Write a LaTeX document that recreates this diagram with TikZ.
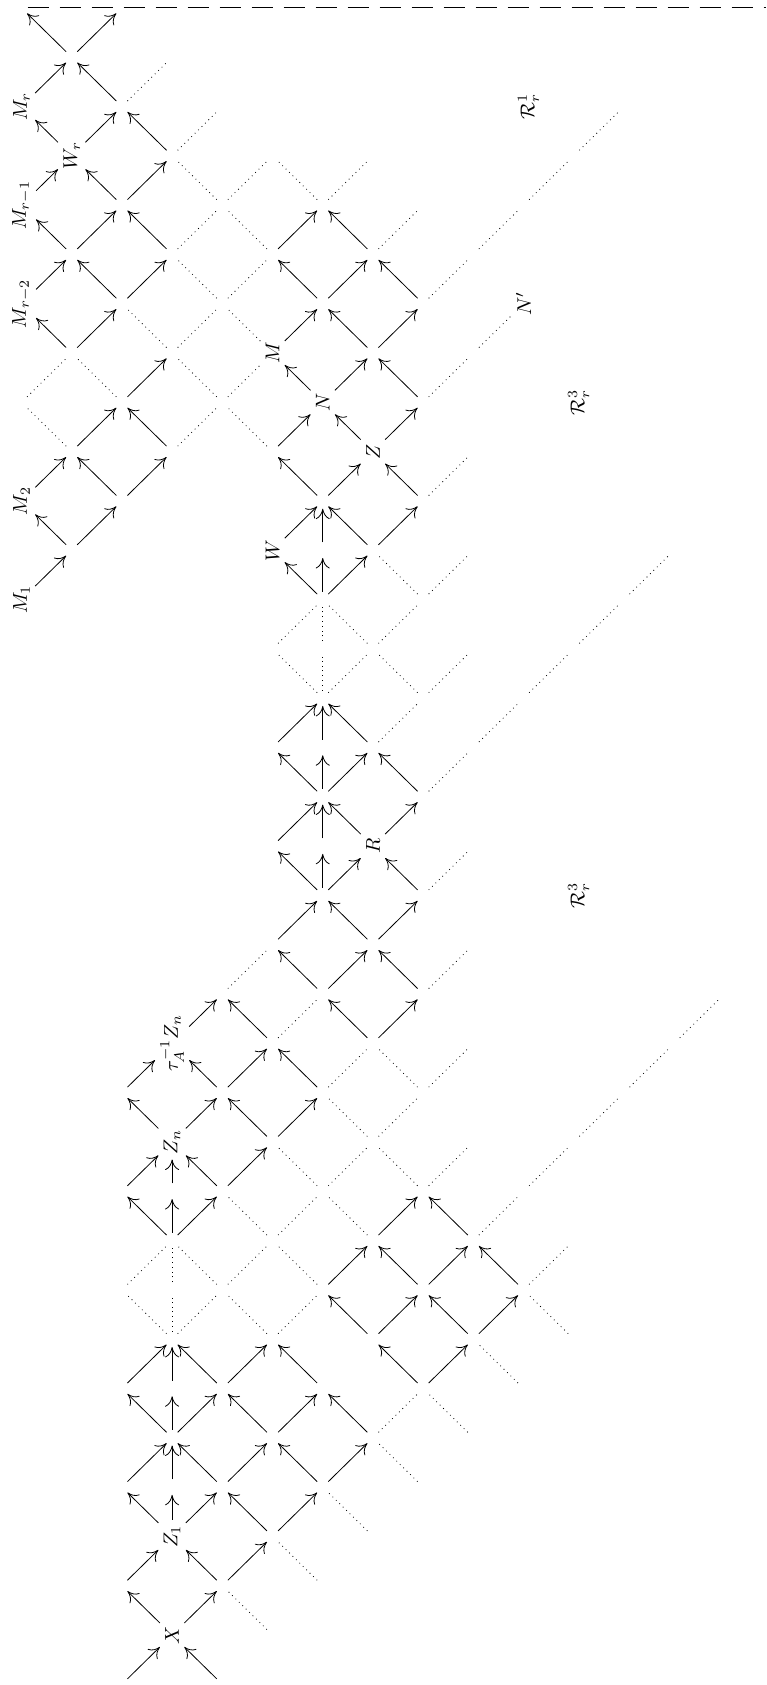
\documentclass[tikz,border=0pt]{standalone}
\usepackage{amsmath}
\usetikzlibrary{arrows.meta}
\begin{document}
\begin{tikzpicture}[
  x=25.1pt, y=24.65pt,
  vtx/.style={circle, inner sep=0pt, minimum size=7.4pt},
  lbl/.style={rotate=90, inner sep=2.5pt},
  arr/.style={-{Computer Modern Rightarrow[length=5.2pt,width=7pt]}},
  dotl/.style={dotted},
  bound/.style={dash pattern=on 10.5pt off 5.5pt, line width=0.6pt}
]
  \useasboundingbox (-0.428,-1.014) rectangle (14.83,33.16);

  % Vertices of the mesh
  \foreach \k in {0,...,33}{
    \pgfmathtruncatemacro\s{mod(\k+1,2)}
    \pgfmathtruncatemacro\t{\s+2}
    \foreach \c in {\s,\t,...,14}
      \node[vtx] (v\c-\k) at (\c,\k) {};
  }
  % middle vertices of the forks
  \foreach \c/\k in {3/3,3/5,3/7,3/9,6/16,6/18,6/20,6/22}
    \node[vtx] (v\c-\k) at (\c,\k) {};
  \node[vtx] (b2) at (2,-1) {};
  \node[vtx] (b4) at (4,-1) {};

  % Labelled modules
  \node[lbl] (v3-0)   at (3,0)  {$X$};
  \node[lbl] (v3-2)   at (3,2)  {$Z_1$};
  \node[lbl] (v3-10)  at (3,10) {$Z_n$};
  \node[lbl] (v3-12)  at (3,12) {$\tau_A^{-1}Z_n$};
  \node[lbl] (v7-16)  at (7,16) {$R$};
  \node[lbl] (v5-22)  at (5,22) {$W$};
  \node[lbl] (v7-24)  at (7,24) {$Z$};
  \node[lbl] (v6-25)  at (6,25) {$N$};
  \node[lbl] (v5-26)  at (5,26) {$M$};
  \node[lbl] (v10-27) at (10,27){$N'$};
  \node[lbl] (v0-21)  at (0,21) {$M_1$};
  \node[lbl] (v0-23)  at (0,23) {$M_2$};
  \node[lbl] (v0-27)  at (0,27) {$M_{r-2}$};
  \node[lbl] (v0-29)  at (0,29) {$M_{r-1}$};
  \node[lbl] (v0-31)  at (0,31) {$M_r$};
  \node[lbl] (v1-30)  at (1,30) {$W_r$};

  % Regions
  \node[lbl] (reg1)  at (10.1,31) {$\mathcal{R}^1_r$};
  \node[lbl] (reg3a) at (11.1,25) {$\mathcal{R}^3_r$};
  \node[lbl] (reg3b) at (11.1,15) {$\mathcal{R}^3_r$};

  % Upper boundary
  \coordinate (dashL) at (0.12,33);
  \coordinate (dashR) at (14.83,33);
  \draw[bound] (dashL) -- (dashR);

  % Arrows into X
  \draw[arr] (b2) -- (v3-0);
  \draw[arr] (b4) -- (v3-0);

  % Arrows, up-right
  \foreach \c/\k in {3/0, 2/1, 4/1, 3/2, 5/2, 2/3, 4/3, 6/3, 3/4, 5/4,
      2/5, 4/5, 8/5, 7/6, 9/6, 6/7, 8/7, 3/8, 7/8, 2/9, 4/9, 3/10, 5/10,
      2/11, 4/11, 3/12, 7/12, 6/13, 5/14, 7/14, 6/15, 5/16, 7/16, 6/17,
      5/18, 0/21, 6/21, 1/22, 5/22, 7/22, 0/23, 2/23, 6/23, 1/24, 5/24,
      7/24, 2/25, 6/25, 1/26, 5/26, 7/26, 0/27, 2/27, 6/27, 1/28, 5/28,
      0/29, 2/29, 1/30, 0/31, 1/32}{
    \pgfmathtruncatemacro\cn{\c+1}
    \pgfmathtruncatemacro\kn{\k+1}
    \draw[arr] (v\c-\k) -- (v\cn-\kn);
  }

  % Arrows, up-left
  \foreach \c/\k in {3/0, 4/1, 3/2, 5/2, 4/3, 6/3, 3/4, 5/4, 7/4, 4/5,
      6/5, 8/5, 7/6, 9/6, 8/7, 10/7, 3/8, 9/8, 4/9, 3/10, 5/10, 4/11,
      6/11, 5/12, 7/12, 6/13, 8/13, 7/14, 6/15, 8/15, 7/16, 6/17, 8/17,
      7/18, 6/21, 1/22, 7/22, 2/23, 6/23, 8/23, 3/24, 7/24, 6/25, 8/25,
      1/26, 7/26, 2/27, 6/27, 8/27, 1/28, 3/28, 7/28, 2/29, 1/30, 3/30,
      2/31, 1/32}{
    \pgfmathtruncatemacro\cn{\c-1}
    \pgfmathtruncatemacro\kn{\k+1}
    \draw[arr] (v\c-\k) -- (v\cn-\kn);
  }

  % Arrows, straight up
  \foreach \c/\k in {3/2, 3/3, 3/4, 3/5, 3/8, 3/9, 6/15, 6/16, 6/17,
      6/18, 6/21, 6/22}{
    \pgfmathtruncatemacro\kn{\k+1}
    \draw[arr] (v\c-\k) -- (v\c-\kn);
  }

  % Dotted, up-right
  \foreach \c/\k in {7/4, 3/6, 5/6, 2/7, 4/7, 10/7, 5/8, 9/8, 6/9, 8/9,
      10/9, 7/10, 11/10, 6/11, 8/11, 12/11, 5/12, 13/12, 4/13, 8/13, 8/15,
      8/17, 7/18, 9/18, 6/19, 8/19, 10/19, 5/20, 7/20, 11/20, 8/21, 12/21,
      8/23, 3/24, 0/25, 4/25, 8/25, 3/26, 9/26, 4/27, 8/27, 3/28, 7/28,
      9/28, 4/29, 6/29, 10/29, 3/30, 11/30, 2/31}{
    \pgfmathtruncatemacro\cn{\c+1}
    \pgfmathtruncatemacro\kn{\k+1}
    \draw[dotl] (v\c-\k) -- (v\cn-\kn);
  }

  % Dotted, up-left
  \foreach \c/\k in {5/0, 6/1, 7/2, 8/3, 9/4, 10/5, 3/6, 5/6, 11/6, 4/7,
      6/7, 5/8, 7/8, 6/9, 8/9, 7/10, 8/11, 6/19, 8/19, 7/20, 8/21, 1/24,
      5/24, 2/25, 4/25, 3/26, 5/26, 4/27, 5/28, 4/29, 6/29}{
    \pgfmathtruncatemacro\cn{\c-1}
    \pgfmathtruncatemacro\kn{\k+1}
    \draw[dotl] (v\c-\k) -- (v\cn-\kn);
  }

  % Dotted, straight up
  \foreach \c/\k in {3/6, 3/7, 6/19, 6/20}{
    \pgfmathtruncatemacro\kn{\k+1}
    \draw[dotl] (v\c-\k) -- (v\c-\kn);
  }
\end{tikzpicture}
\end{document}
